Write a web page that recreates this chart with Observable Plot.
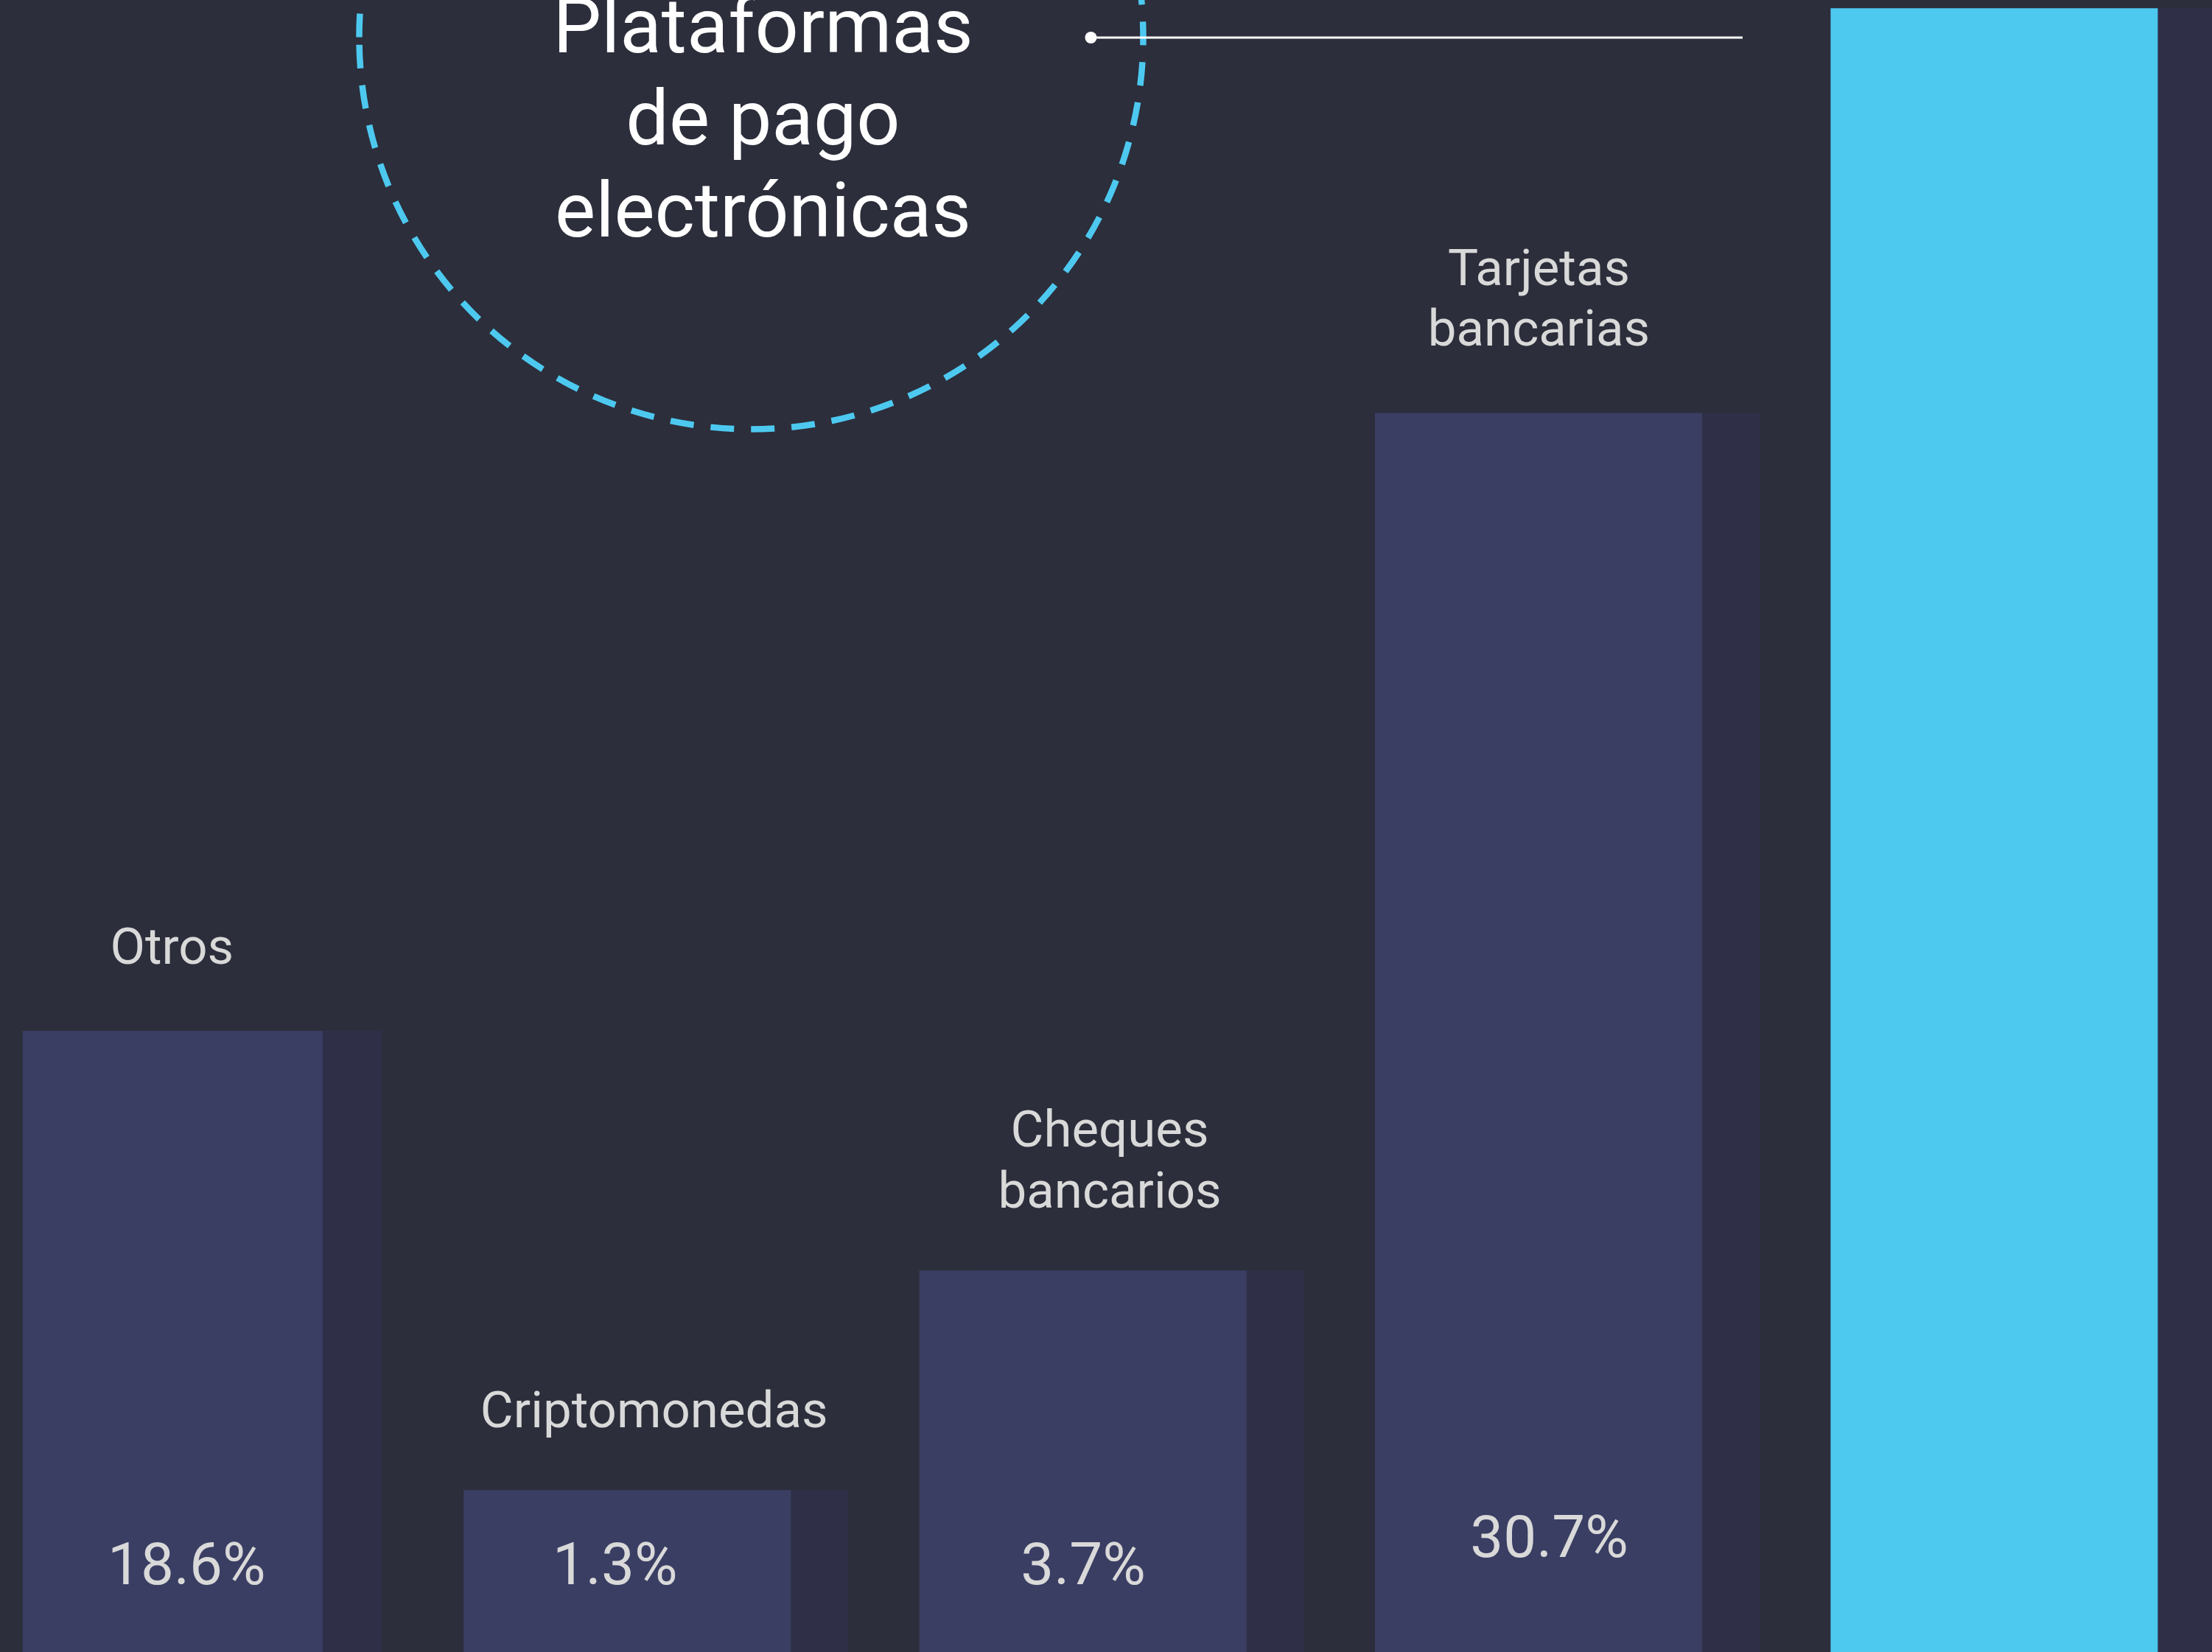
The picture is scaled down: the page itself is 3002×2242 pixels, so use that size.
<!DOCTYPE html>
<html>
<head>
<meta charset="utf-8">
<script src="https://cdn.jsdelivr.net/npm/d3@7"></script>
<script src="https://cdn.jsdelivr.net/npm/@observablehq/plot@0.6"></script>
<style>
  html, body { margin: 0; padding: 0; background: #2c2e3b; }
  #chart { width: 3002px; height: 2242px; overflow: hidden; }
  #chart svg { display: block; }
</style>
</head>
<body>
<div id="chart"></div>
<script>
// ---- data ----
const categorias = ["Otros", "Criptomonedas", "Cheques bancarios", "Tarjetas bancarias", "Plataformas de pago electrónicas"];
const etiquetas = ["Otros", "Criptomonedas", "Cheques\nbancarios", "Tarjetas\nbancarias", null];
const porcentajes = [18.6, 1.3, 3.7, 30.7, null];      // visible value labels
const alturas = [37.6, 9.8, 23.1, 75.0, 99.5];          // bar heights as drawn (share of visible height)
const titulo = "Plataformas\nde pago\nelectrónicas";

// ---- styles ----
const BG = "#2c2e3b";
const SHADOW = "#2f3048";
const BAR = "#3a3e63";
const CYAN = "#4dc9f0";
const LABEL = "#d9d9d9";

const rows = categorias.map((c, i) => ({
  categoria: c,
  etiqueta: etiquetas[i],
  valor: porcentajes[i],
  altura: alturas[i],
  color: i === categorias.length - 1 ? CYAN : BAR
}));

const narrow = d => d.categoria === "Otros";
const shiftLabel = d => d.categoria === "Criptomonedas" || d.categoria === "Cheques bancarios";
const fmt = d => `${d.valor.toFixed(1)}%`;

// circle symbol whose path starts at the left point and runs clockwise
const circleFromLeft = {
  draw(context, size) {
    const r = Math.sqrt(size / Math.PI);
    context.moveTo(-r, 0);
    context.arc(0, 0, r, Math.PI, 3 * Math.PI, false);
  }
};

const W = 3002, H = 2242, MR = 62.8;

const chart = Plot.plot({
  width: W,
  height: H,
  marginTop: 0,
  marginBottom: 0,
  marginLeft: 0,
  marginRight: MR,
  style: { background: BG, fontFamily: "Roboto, 'Noto Sans', sans-serif", overflow: "hidden" },
  x: { domain: categorias, paddingInner: 0.282, paddingOuter: 0.01746, axis: null, round: false },
  y: { domain: [0, 100], axis: null },
  color: { type: "identity" },
  marks: [
    // shadow bars
    Plot.barY(rows.filter(narrow), { x: "categoria", y: "altura", fill: SHADOW, dx: 80, insetLeft: 20, insetRight: 17 }),
    Plot.barY(rows.filter(d => !narrow(d)), { x: "categoria", y: "altura", fill: SHADOW, dx: 78 }),
    // main bars
    Plot.barY(rows.filter(narrow), { x: "categoria", y: "altura", fill: "color", insetLeft: 20, insetRight: 17 }),
    Plot.barY(rows.filter(d => !narrow(d)), { x: "categoria", y: "altura", fill: "color" }),
    // category labels
    Plot.text(rows.filter(d => d.etiqueta && !shiftLabel(d)), {
      x: "categoria", y: "altura", text: "etiqueta", lineAnchor: "bottom", dy: -92,
      fontSize: 69, lineHeight: 1.19, fill: LABEL
    }),
    Plot.text(rows.filter(d => d.etiqueta && shiftLabel(d)), {
      x: "categoria", y: "altura", text: "etiqueta", lineAnchor: "bottom", dy: -86, dx: 36,
      fontSize: 69, lineHeight: 1.19, fill: LABEL
    }),
    // value labels
    Plot.text(rows.filter(d => d.categoria === "Otros"), {
      x: "categoria", text: fmt, frameAnchor: "bottom", lineAnchor: "bottom",
      dy: -93, dx: 20, fontSize: 80, fill: LABEL
    }),
    Plot.text(rows.filter(d => d.categoria === "Criptomonedas"), {
      x: "categoria", text: fmt, frameAnchor: "bottom", lineAnchor: "bottom",
      dy: -93, dx: -17, fontSize: 80, fill: LABEL
    }),
    Plot.text(rows.filter(d => d.categoria === "Cheques bancarios"), {
      x: "categoria", text: fmt, frameAnchor: "bottom", lineAnchor: "bottom",
      dy: -93, fontSize: 80, fill: LABEL
    }),
    Plot.text(rows.filter(d => d.categoria === "Tarjetas bancarias"), {
      x: "categoria", text: fmt, frameAnchor: "bottom", lineAnchor: "bottom",
      dy: -130, dx: 14, fontSize: 80, fill: LABEL
    }),
    // callout for the highlighted bar: dashed circle, leader line and title
    Plot.dot([titulo], {
      frameAnchor: "top-left", dx: 1019, dy: 50, r: 532, symbol: circleFromLeft,
      fill: "none", stroke: CYAN, strokeWidth: 8.5, strokeDasharray: "32,23"
    }),
    Plot.ruleY([100], { dy: 50.5, insetLeft: 1480, insetRight: (W - MR) - 2365, stroke: "#ffffff", strokeWidth: 3 }),
    Plot.dot([titulo], { frameAnchor: "top-left", dx: 1480, dy: 50.5, r: 8, fill: "#ffffff", stroke: "none" }),
    Plot.text([titulo], {
      frameAnchor: "top-left", dx: 1035, dy: 320, text: d => d, lineAnchor: "bottom",
      textAnchor: "middle", lineHeight: 1.2, fontSize: 104, fill: "#ffffff"
    })
  ]
});

document.getElementById("chart").appendChild(chart);
</script>
</body>
</html>
